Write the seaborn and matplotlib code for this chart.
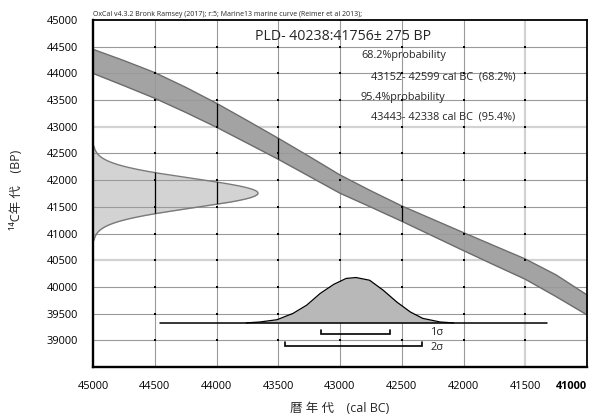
import numpy as np
import matplotlib
matplotlib.use("Agg")
import matplotlib.pyplot as plt
import seaborn as sns
from matplotlib.ticker import MultipleLocator, FixedLocator, FuncFormatter

# Marine13 calibration curve band (cal BC -> 14C BP, upper / lower envelope)
cal_bc = [45000, 44750, 44500, 44250, 44000, 43750, 43500, 43250, 43000,
          42750, 42500, 42250, 42000, 41750, 41500, 41250, 41000]
curve_upper = [44451, 44240, 44015, 43740, 43440, 43115, 42785, 42445, 42097,
               41800, 41517, 41267, 41017, 40770, 40524, 40225, 39850]
curve_lower = [44000, 43770, 43534, 43270, 42991, 42692, 42391, 42073, 41755,
               41495, 41230, 40955, 40680, 40410, 40144, 39818, 39476]

# Radiocarbon measurement
c14_mean = 41756
c14_sigma = 275

# Calibrated probability distribution (relative probability)
cal_years = [43760, 43650, 43510, 43380, 43270, 43160, 43050, 42950, 42870,
             42760, 42650, 42540, 42430, 42330, 42190, 42080]
cal_prob = [0.0, 0.02, 0.07, 0.21, 0.39, 0.65, 0.85, 0.98, 1.0,
            0.94, 0.72, 0.46, 0.24, 0.10, 0.02, 0.0]

# Highest probability density ranges (cal BC)
range_68 = (43152, 42599)
range_95 = (43443, 42338)

x_ticks = [45000, 44500, 44000, 43500, 43000, 42500, 42000, 41500, 41000]
y_ticks = [38500, 39000, 39500, 40000, 40500, 41000, 41500, 42000, 42500,
           43000, 43500, 44000, 44500, 45000]

header = "OxCal v4.3.2 Bronk Ramsey (2017); r:5; Marine13 marine curve (Reimer et al 2013);"
title = "PLD- 40238:41756\u00b1 275 BP"
prob_lines = ["68.2%probability", "43152- 42599 cal BC  (68.2%)",
              "95.4%probability", "43443- 42338 cal BC  (95.4%)"]
ylabel = "\u00b9\u2074C年 代\u3000(BP)"
xlabel = "暦 年 代\u3000(cal BC)"

sns.set_theme(style="white")
plt.rcParams["font.family"] = ["Open Sans", "Noto Sans CJK JP", "DejaVu Sans"]

fig = plt.figure(figsize=(5.96, 4.17), dpi=100)
ax = fig.add_axes([93 / 596, 50 / 417, 494 / 596, 347 / 417])
ax.set_xlim(45000, 41000)
ax.set_ylim(38500, 45000)
ax.set_facecolor("white")

grid_c = "#9a9a9a"
light_c = "#d2d2d2"
for gx in x_ticks[1:-1]:
    if gx == 41500:
        ax.axvline(gx, color=light_c, lw=1.6, zorder=1)
    else:
        ax.axvline(gx, color=grid_c, lw=0.8, zorder=3)
for gy in y_ticks[1:-1]:
    if gy in (43000, 40500):
        ax.axhline(gy, color=light_c, lw=1.6, zorder=1)
    else:
        ax.axhline(gy, color=grid_c, lw=0.8, zorder=3)

# small marks at grid intersections
gxx, gyy = np.meshgrid(x_ticks[1:-1], y_ticks[1:-1])
ax.scatter(gxx.ravel(), gyy.ravel(), s=0.8, marker="s", color="black",
           linewidths=0, zorder=3.6)

# calibration curve band
band = ax.fill_between(cal_bc, curve_lower, curve_upper, color="#a3a3a3",
                       lw=0, zorder=2)
sns.lineplot(x=cal_bc, y=curve_upper, color="#6c6c6c", lw=1.0, ax=ax, zorder=3.2)
sns.lineplot(x=cal_bc, y=curve_lower, color="#6c6c6c", lw=1.0, ax=ax, zorder=3.2)
for gx in (44000, 43500, 42500):
    ln = ax.axvline(gx, color="black", lw=0.9, zorder=3.3)
    ln.set_clip_path(band.get_paths()[0], ax.transData)

# radiocarbon date distribution on the 14C axis
c14_y = np.linspace(c14_mean - 3.2 * c14_sigma, c14_mean + 3.2 * c14_sigma, 300)
c14_x = 45000 - 1336 * np.exp(-0.5 * ((c14_y - c14_mean) / c14_sigma) ** 2)
c14_fill = ax.fill_betweenx(c14_y, 45000, c14_x, color="#d3d3d3", lw=0, zorder=2)
ax.plot(c14_x, c14_y, color="#7a7a7a", lw=1.0, zorder=3.2)
for gx in (44500, 44000):
    ln = ax.axvline(gx, color="black", lw=0.9, zorder=3.3)
    ln.set_clip_path(c14_fill.get_paths()[0], ax.transData)

# calibrated distribution
base_y = 39326
peak_h = 850
cal_top = [base_y + p * peak_h for p in cal_prob]
ax.fill_between(cal_years, base_y, cal_top, color="#b8b8b8", lw=0, zorder=4)
sns.lineplot(x=cal_years, y=cal_top, color="black", lw=0.9, ax=ax, zorder=4.2)
ax.plot([44457, 41324], [base_y, base_y], color="black", lw=1.1, zorder=4.3)

# range brackets
for (x1, x2), yb, lab, ly in ((range_68, 39120, "1\u03c3", 39139),
                              (range_95, 38895, "2\u03c3", 38858)):
    ax.plot([x1, x1, x2, x2], [yb + 80, yb, yb, yb + 80], color="black",
            lw=1.2, zorder=4.3, solid_joinstyle="miter")
    ax.text(42266, ly, lab, fontsize=7.8, ha="left", va="center", zorder=5)

# annotation text
ax.text(43690, 44700, title, fontsize=10.2, ha="left", va="center", zorder=6)
ax.text(42830, 44326, prob_lines[0], fontsize=7.8, ha="left", va="center", zorder=6)
ax.text(42749, 43933, prob_lines[1], fontsize=7.8, ha="left", va="center", zorder=6)
ax.text(42830, 43539, prob_lines[2], fontsize=7.8, ha="left", va="center", zorder=6)
ax.text(42749, 43184, prob_lines[3], fontsize=7.8, ha="left", va="center", zorder=6)
fig.text(93 / 596, 1 - 15 / 417, header, fontsize=5.0, ha="left", va="center")

# axes, ticks and labels
ax.xaxis.set_major_locator(FixedLocator(x_ticks))
ax.xaxis.set_minor_locator(MultipleLocator(100))
ax.yaxis.set_major_locator(FixedLocator(y_ticks))
ax.yaxis.set_minor_locator(MultipleLocator(100))
ax.yaxis.set_major_formatter(FuncFormatter(lambda v, p: "" if v < 38900 else f"{v:.0f}"))
ax.xaxis.set_major_formatter(FuncFormatter(lambda v, p: f"{v:.0f}"))
ax.tick_params(axis="both", which="both", direction="in", colors="black",
               labelsize=7.9, top=False, right=False)
ax.tick_params(axis="both", which="major", length=5, width=1.0)
ax.tick_params(axis="both", which="minor", length=4, width=0.9)
ax.tick_params(axis="x", which="major", pad=10)
ax.tick_params(axis="y", which="major", pad=11)

for side, lw in (("left", 1.7), ("bottom", 1.7), ("top", 1.3), ("right", 1.3)):
    ax.spines[side].set_color("black")
    ax.spines[side].set_linewidth(lw)
    ax.spines[side].set_zorder(7)

fig.canvas.draw()
for lab in ax.get_xticklabels():
    if lab.get_text() == "41000":
        lab.set_fontweight("bold")
        lab.set_horizontalalignment("right")
        lab.set_x(40940)

fig.text(17 / 596, 1 - 190 / 417, ylabel, rotation=90, fontsize=9,
         ha="center", va="center")
fig.text(340 / 596, 1 - 408 / 417, xlabel, fontsize=9, ha="center", va="center")

fig.savefig("out.png", dpi=100)
